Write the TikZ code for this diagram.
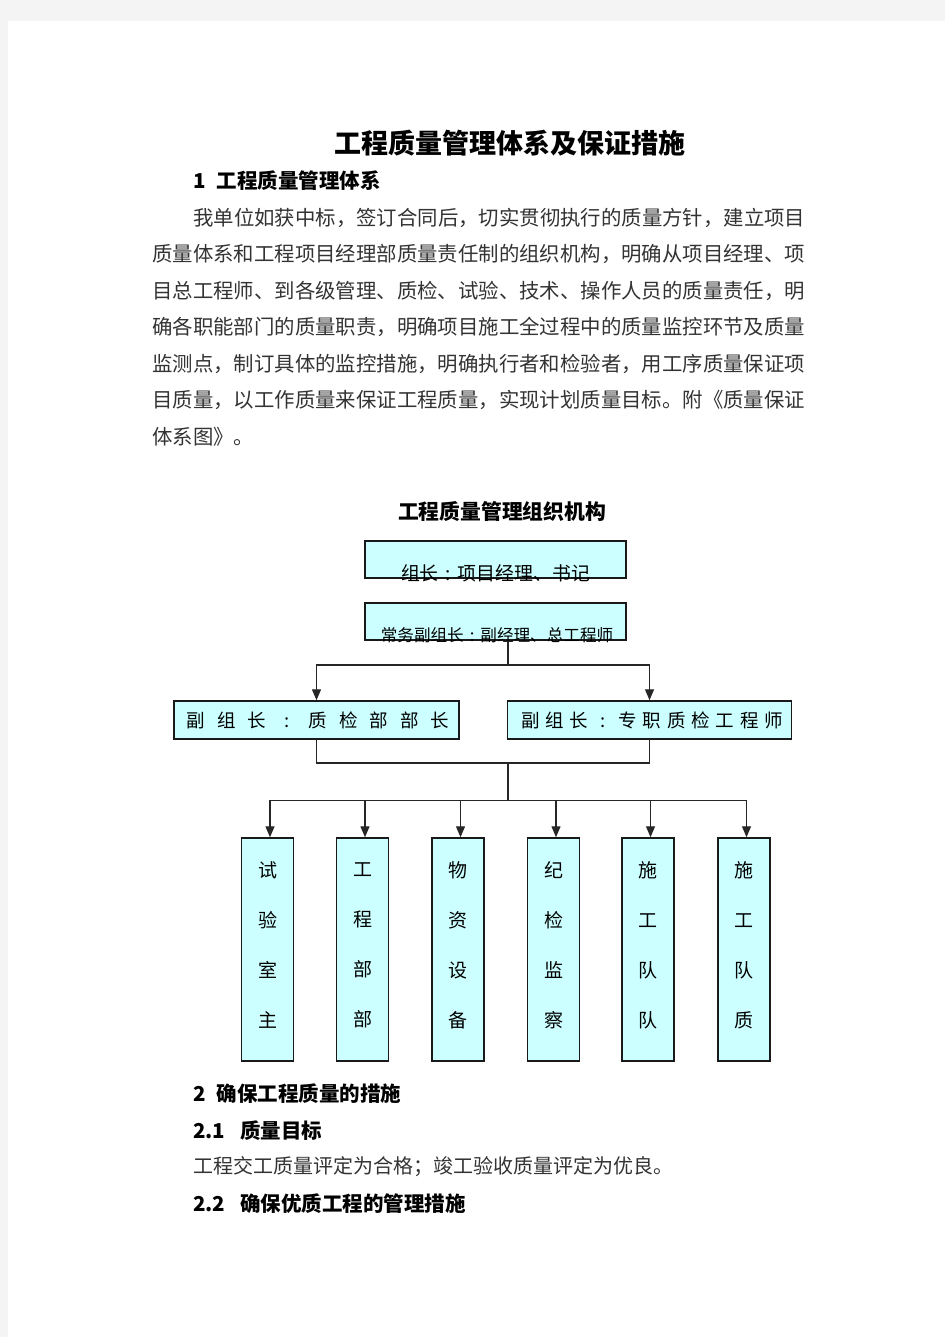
\documentclass[tikz,border=0pt]{standalone}
\usepackage{fontspec}
\setmainfont{Noto Sans CJK SC}
\usetikzlibrary{arrows.meta}
\definecolor{pagegray}{HTML}{F4F4F4}
\definecolor{boxfill}{HTML}{CCFFFF}
\makeatletter
\newcommand\spreadtxt[2]{{\def\st@gap{#1}\let\st@sep\relax\@tfor\st@c:=#2\do{\st@sep\st@c\def\st@sep{\kern\st@gap}}}}
\makeatother
\newcommand\ccolon{\makebox[1em]{:}}
\tikzset{
  box/.style={draw=black!90, line width=1.5pt, fill=boxfill, inner sep=0pt},
  btxt/.style={inner sep=0pt, text=black, font=\fontsize{18.9}{22}\selectfont},
  vtxt/.style={inner sep=0pt, align=center, text=black, font=\fontsize{19}{50}\selectfont},
  txt/.style={inner sep=0pt, anchor=west, text=black!80, font=\fontsize{20.4}{24}\selectfont},
  head/.style={inner sep=0pt, anchor=west, text=black, font=\bfseries\fontsize{20.5}{24}\selectfont},
  conn/.style={draw=black!85, line width=1.3pt},
  arr/.style={conn, -{Triangle[length=11pt,width=9pt]}}
}
\begin{document}
\begin{tikzpicture}[x=1pt,y=-1pt]
\fill[pagegray] (0,0) rectangle (945,1337);
\fill[white] (8,21) rectangle (945,1337);
\useasboundingbox (0,0) rectangle (945,1337);

% title and text
\node[inner sep=0pt, font=\bfseries\fontsize{27}{30}\selectfont] (title) at (510,143) {工程质量管理体系及保证措施};
\node[head] (h1) at (193,181) {1\kern11pt 工程质量管理体系};
\node[txt] (l1) at (193,218) {我单位如获中标，签订合同后，切实贯彻执行的质量方针，建立项目};
\node[txt] (l2) at (152,254) {质量体系和工程项目经理部质量责任制的组织机构，明确从项目经理、项};
\node[txt] (l3) at (152,291) {目总工程师、到各级管理、质检、试验、技术、操作人员的质量责任，明};
\node[txt] (l4) at (152,327) {确各职能部门的质量职责，明确项目施工全过程中的质量监控环节及质量};
\node[txt] (l5) at (152,364) {监测点，制订具体的监控措施，明确执行者和检验者，用工序质量保证项};
\node[txt] (l6) at (152,400) {目质量，以工作质量来保证工程质量，实现计划质量目标。附《质量保证};
\node[txt] (l7) at (152,437) {体系图》。};

\node[inner sep=0pt, font=\bfseries\fontsize{20.8}{24}\selectfont] (dt) at (502,511) {工程质量管理组织机构};

% boxes
\node[box, minimum width=261pt, minimum height=37pt] (b1) at (495.5,559.5) {};
\node[btxt] (t1) at (495.5,573) {组长\ccolon 项目经理、书记};
\node[box, minimum width=261pt, minimum height=37pt] (b2) at (495.5,621.5) {};
\node[btxt, font=\fontsize{16.6}{20}\selectfont] (t2) at (497,635) {常务副组长\ccolon 副经理、总工程师};
\node[box, minimum width=285pt, minimum height=38pt] (b3) at (316.5,720) {};
\node[btxt, font=\fontsize{18.5}{22}\selectfont] (t3) at (318,720) {\spreadtxt{12pt}{副组长\ccolon 质检部部长}};
\node[box, minimum width=284pt, minimum height=38pt] (b4) at (649.5,720) {};
\node[btxt, font=\fontsize{18.5}{22}\selectfont] (t4) at (652,720) {\spreadtxt{5.85pt}{副组长\ccolon 专职质检工程师}};

\foreach \n/\x/\t in {c1/267.5/试\\验\\室\\主, c2/362.5/工\\程\\部\\部, c3/458/物\\资\\设\\备, c4/553.5/纪\\检\\监\\察, c5/648/施\\工\\队\\队, c6/744/施\\工\\队\\质}{
  \node[box, minimum width=52pt, minimum height=223pt] (\n) at (\x,949.5) {};
  \node[vtxt] (\n t) at (\x,945) {\t};
}

% connectors
\coordinate (j1) at (508,665);
\coordinate (j2) at (508,763);
\coordinate (j3) at (508,800.5);
\draw[conn] (b2.south -| j1) -- (j1);
\draw[arr] (j1) -| (b3.north);
\draw[arr] (j1) -| (b4.north);
\draw[conn] (b3.south) |- (j2) -| (b4.south);
\draw[conn] (j2) -- (j3);
\foreach \n in {c1,c2,c3,c4,c5,c6}{
  \draw[arr] (j3) -| ([xshift=2.5pt]\n.north);
}

% lower text
\node[head] (h2) at (193,1094) {2\kern11pt 确保工程质量的措施};
\node[head] (h21) at (193,1131) {2.1\kern15pt 质量目标};
\node[txt, font=\fontsize{20}{24}\selectfont] (p2) at (193,1167) {工程交工质量评定为合格；竣工验收质量评定为优良。};
\node[head] (h22) at (193,1204) {2.2\kern15pt 确保优质工程的管理措施};
\end{tikzpicture}
\end{document}
